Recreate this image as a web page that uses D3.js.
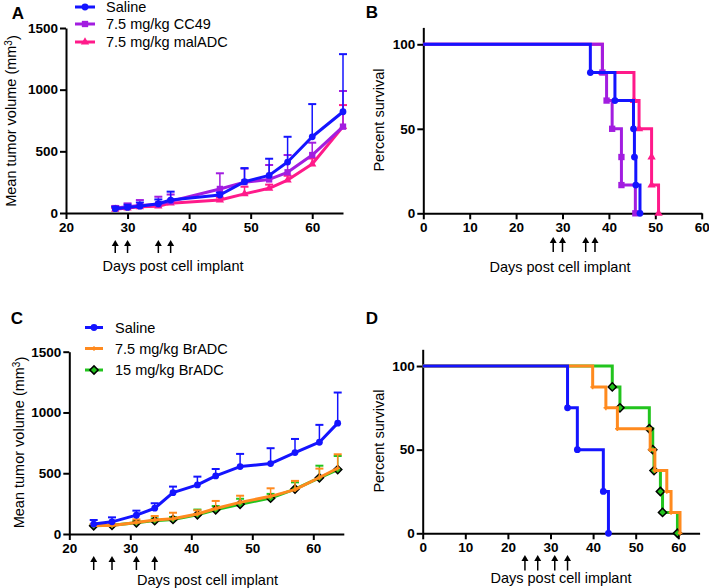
<!DOCTYPE html>
<html>
<head>
<meta charset="utf-8">
<script src="https://cdn.jsdelivr.net/npm/d3@7"></script>
<style>
  body { margin: 0; background: #fff; }
  svg { font-family: "Liberation Sans", Arial, sans-serif; }
  .axis .domain, .axis line { stroke: #000; stroke-width: 2; }
  .axis text { font-weight: bold; font-size: 13.5px; fill: #000; }
</style>
</head>
<body>
<div id="container"></div>
<script>
/* DATA */
// panel A - tumor growth
const aDays = [28, 30, 32, 35, 37, 45, 49, 53, 56, 60, 65];
const aSaline = [35, 45, 55, 75, 105, 146, 254, 305, 413, 618, 821];
const aSalineErr = [15, 22, 30, 35, 68, 20, 110, 135, 205, 265, 467];
const aCC49 = [40, 50, 60, 70, 95, 195, 250, 272, 330, 470, 700];
const aCC49Err = [17, 28, 45, 62, 55, 127, 110, 117, 140, 100, 289];
const aMal = [30, 40, 50, 55, 80, 105, 155, 200, 267, 397, 700];
const aMalErr = [10, 12, 15, 20, 15, 20, 58, 30, 35, 45, 175];
const aDosing = [28, 30, 35, 37];

// panel B - survival
const bSalineT = [36, 41.3, 45.3, 45.5, 45.8, 46.7];
const bSalineS = [83.3, 66.7, 50, 33.3, 16.7, 0];
const bCC49T = [38.6, 39.5, 40.7, 42.7, 42.7, 45.7];
const bCC49S = [83.3, 66.7, 50, 33.3, 16.7, 0];
const bMalT = [38.6, 45.4, 46.5, 49.2, 49.2, 50.7];
const bMalS = [83.3, 66.7, 50, 33.3, 16.7, 0];

// panel C - tumor growth
const cDays = [24, 27, 31, 34, 37, 41, 44, 48, 53, 57, 61, 64];
const cSaline = [82, 100, 155, 212, 340, 404, 478, 555, 580, 670, 755, 912];
const cSalineErr = [33, 37, 37, 41, 50, 68, 57, 104, 126, 112, 143, 252];
const cBr75 = [70, 70, 95, 115, 125, 165, 210, 260, 310, 365, 465, 541];
const cBr75Err = [12, 12, 25, 33, 50, 30, 62, 55, 66, 72, 73, 115];
const cBr15 = [68, 72, 92, 110, 120, 158, 200, 245, 295, 370, 462, 530];
const cBr15Err = [8, 10, 15, 18, 20, 43, 30, 45, 35, 55, 100, 112];
const cDosing = [24, 27, 31, 34];

// panel D - survival
const dSalineT = [34, 36.3, 42.4, 43.6];
const dSalineS = [75, 50, 25, 0];
const dBr75T = [39.9, 43, 45.7, 53.4, 54.5, 57.3, 58.3, 60.4];
const dBr75S = [87.5, 75, 62.5, 50, 37.5, 25, 12.5, 0];
const dBr15T = [44.5, 46.3, 53.2, 54, 54.3, 55.8, 56.3, 59.8];
const dBr15S = [87.5, 75, 62.5, 50, 37.5, 25, 12.5, 0];

const volTicks = [0, 500, 1000, 1500];
const survTicks = [0, 50, 100];

const blue = "#1414ff", purple = "#a21de0", pink = "#ff1a8a",
  orange = "#ff8a1e", green = "#22c41e";

const svg = d3.select("#container").append("svg")
  .attr("width", 709).attr("height", 588);

// marker shapes (diamond = square turned 45deg)
const markers = {
  circle: { type: d3.symbolCircle, size: 36, stroke: null, rot: 0 },
  square: { type: d3.symbolSquare, size: 40, stroke: null, rot: 0 },
  triangle: { type: d3.symbolTriangle, size: 30, stroke: null, rot: 0 },
  plus: { type: d3.symbolCross, size: 12, stroke: null, rot: 0 },
  diamond: { type: d3.symbolSquare, size: 34, stroke: "#000", rot: 45 }
};

function drawMarker(g, x, y, shape, color) {
  const m = markers[shape];
  g.append("path")
    .attr("d", d3.symbol().type(m.type).size(m.size)())
    .attr("transform", `translate(${x},${y}) rotate(${m.rot})`)
    .attr("fill", color)
    .attr("stroke", m.stroke || "none")
    .attr("stroke-width", m.stroke ? 1.5 : 0);
}

function drawAxes(x, y, xTicks, yTicks) {
  svg.append("g").attr("class", "axis")
    .attr("transform", `translate(0,${y(0)})`)
    .call(d3.axisBottom(x).tickValues(xTicks).tickFormat(d3.format("d"))
      .tickSize(6).tickSizeOuter(0).tickPadding(3));
  svg.append("g").attr("class", "axis")
    .attr("transform", `translate(${x.range()[0]},0)`)
    .call(d3.axisLeft(y).tickValues(yTicks).tickFormat(d3.format("d"))
      .tickSize(6).tickSizeOuter(0).tickPadding(2));
}

function arrows(x, days, yTop, yBot) {
  days.forEach(d => {
    const px = x(d);
    svg.append("line").attr("x1", px).attr("x2", px)
      .attr("y1", yTop + 4).attr("y2", yBot)
      .attr("stroke", "#000").attr("stroke-width", 1.5);
    svg.append("path")
      .attr("d", `M${px},${yTop} L${px - 3.5},${yTop + 6} L${px + 3.5},${yTop + 6} Z`)
      .attr("fill", "#000");
  });
}

function labels(letter, lx, ly, xText, xx, xy, yLabel, yx, yy) {
  svg.append("text").attr("x", lx).attr("y", ly)
    .attr("text-anchor", "middle").attr("dy", "0.35em")
    .style("font-weight", "bold").style("font-size", "17px")
    .text(letter);
  svg.append("text").attr("x", xx).attr("y", xy)
    .attr("text-anchor", "middle").attr("dy", "0.35em")
    .style("font-size", "14.5px")
    .text(xText);
  const t = svg.append("text")
    .attr("transform", `translate(${yx},${yy}) rotate(-90)`)
    .attr("text-anchor", "middle").attr("dy", "0.35em")
    .style("font-size", "14.5px");
  if (yLabel === "volume") {
    t.append("tspan").text("Mean tumor volume (mm");
    t.append("tspan").attr("dy", "-0.45em").style("font-size", "10px").text("3");
    t.append("tspan").attr("dy", "0.45em").text(")");
  } else {
    t.text(yLabel);
  }
}

function growthSeries(x, y, days, vals, errs, color, shape) {
  const g = svg.append("g");
  days.forEach((d, i) => {
    const px = x(d), top = y(vals[i] + errs[i]);
    g.append("line").attr("x1", px).attr("x2", px)
      .attr("y1", y(vals[i])).attr("y2", top)
      .attr("stroke", color).attr("stroke-width", 1.5);
    g.append("line").attr("x1", px - 4).attr("x2", px + 4)
      .attr("y1", top).attr("y2", top)
      .attr("stroke", color).attr("stroke-width", 2);
  });
  g.append("path")
    .datum(days.map((d, i) => [d, vals[i]]))
    .attr("fill", "none").attr("stroke", color).attr("stroke-width", 3)
    .attr("stroke-linejoin", "round")
    .attr("d", d3.line().x(d => x(d[0])).y(d => y(d[1])));
  days.forEach((d, i) => drawMarker(g, x(d), y(vals[i]), shape, color));
}

function survivalSeries(x, y, times, surv, color, shape) {
  const g = svg.append("g");
  const pts = [[0, 100]].concat(times.map((t, i) => [t, surv[i]]));
  g.append("path")
    .datum(pts)
    .attr("fill", "none").attr("stroke", color).attr("stroke-width", 3)
    .attr("d", d3.line().x(d => x(d[0])).y(d => y(d[1])).curve(d3.curveStepAfter));
  times.forEach((t, i) => drawMarker(g, x(t), y(surv[i]), shape, color));
}

function legend(x0, x1, tx, rows) {
  rows.forEach(r => {
    svg.append("line").attr("x1", x0).attr("x2", x1)
      .attr("y1", r.y).attr("y2", r.y)
      .attr("stroke", r.color).attr("stroke-width", 3);
    drawMarker(svg, (x0 + x1) / 2, r.y, r.shape, r.color);
    svg.append("text").attr("x", tx).attr("y", r.y)
      .attr("dy", "0.35em").style("font-size", "14.5px")
      .text(r.label);
  });
}

/* PANEL A */
const xA = d3.scaleLinear().domain([20, 65]).range([66, 343]);
const yA = d3.scaleLinear().domain([0, 1500]).range([213, 28]);
drawAxes(xA, yA, [20, 30, 40, 50, 60], volTicks);
growthSeries(xA, yA, aDays, aMal, aMalErr, pink, "triangle");
growthSeries(xA, yA, aDays, aCC49, aCC49Err, purple, "square");
growthSeries(xA, yA, aDays, aSaline, aSalineErr, blue, "circle");
arrows(xA, aDosing, 240, 253);
labels("A", 18, 13, "Days post cell implant", 173, 266, "volume", 11, 121);
legend(75, 95, 106, [
  { y: 7, color: blue, shape: "circle", label: "Saline" },
  { y: 24, color: purple, shape: "square", label: "7.5 mg/kg CC49" },
  { y: 42, color: pink, shape: "triangle", label: "7.5 mg/kg malADC" }
]);

/* PANEL B */
const xB = d3.scaleLinear().domain([0, 60]).range([423.3, 701.7]);
const yB = d3.scaleLinear().domain([0, 110]).range([213.3, 27.4]);
drawAxes(xB, yB, [0, 10, 20, 30, 40, 50, 60], survTicks);
survivalSeries(xB, yB, bMalT, bMalS, pink, "triangle");
survivalSeries(xB, yB, bCC49T, bCC49S, purple, "square");
survivalSeries(xB, yB, bSalineT, bSalineS, blue, "circle");
arrows(xB, aDosing, 237, 252);
labels("B", 372, 12, "Days post cell implant", 560, 266.5, "Percent survival", 379, 120);

/* PANEL C */
const xC = d3.scaleLinear().domain([20, 65]).range([69.3, 343.8]);
const yC = d3.scaleLinear().domain([0, 1500]).range([534, 351.7]);
drawAxes(xC, yC, [20, 30, 40, 50, 60], volTicks);
growthSeries(xC, yC, cDays, cBr15, cBr15Err, green, "diamond");
growthSeries(xC, yC, cDays, cBr75, cBr75Err, orange, "plus");
growthSeries(xC, yC, cDays, cSaline, cSalineErr, blue, "circle");
arrows(xC, cDosing, 556, 570);
labels("C", 17, 318, "Days post cell implant", 207.5, 580, "volume", 19, 442.5);
legend(85, 103, 115, [
  { y: 327.5, color: blue, shape: "circle", label: "Saline" },
  { y: 348.5, color: orange, shape: "plus", label: "7.5 mg/kg BrADC" },
  { y: 370, color: green, shape: "diamond", label: "15 mg/kg BrADC" }
]);

/* PANEL D */
const xD = d3.scaleLinear().domain([0, 65]).range([422.7, 699.6]);
const yD = d3.scaleLinear().domain([0, 110]).range([533.3, 349.3]);
drawAxes(xD, yD, [0, 10, 20, 30, 40, 50, 60], survTicks);
survivalSeries(xD, yD, dBr15T, dBr15S, green, "diamond");
survivalSeries(xD, yD, dBr75T, dBr75S, orange, "plus");
survivalSeries(xD, yD, dSalineT, dSalineS, blue, "circle");
arrows(xD, cDosing, 555, 570.5);
labels("D", 372, 318, "Days post cell implant", 561, 578, "Percent survival", 379, 441);
</script>
</body>
</html>
